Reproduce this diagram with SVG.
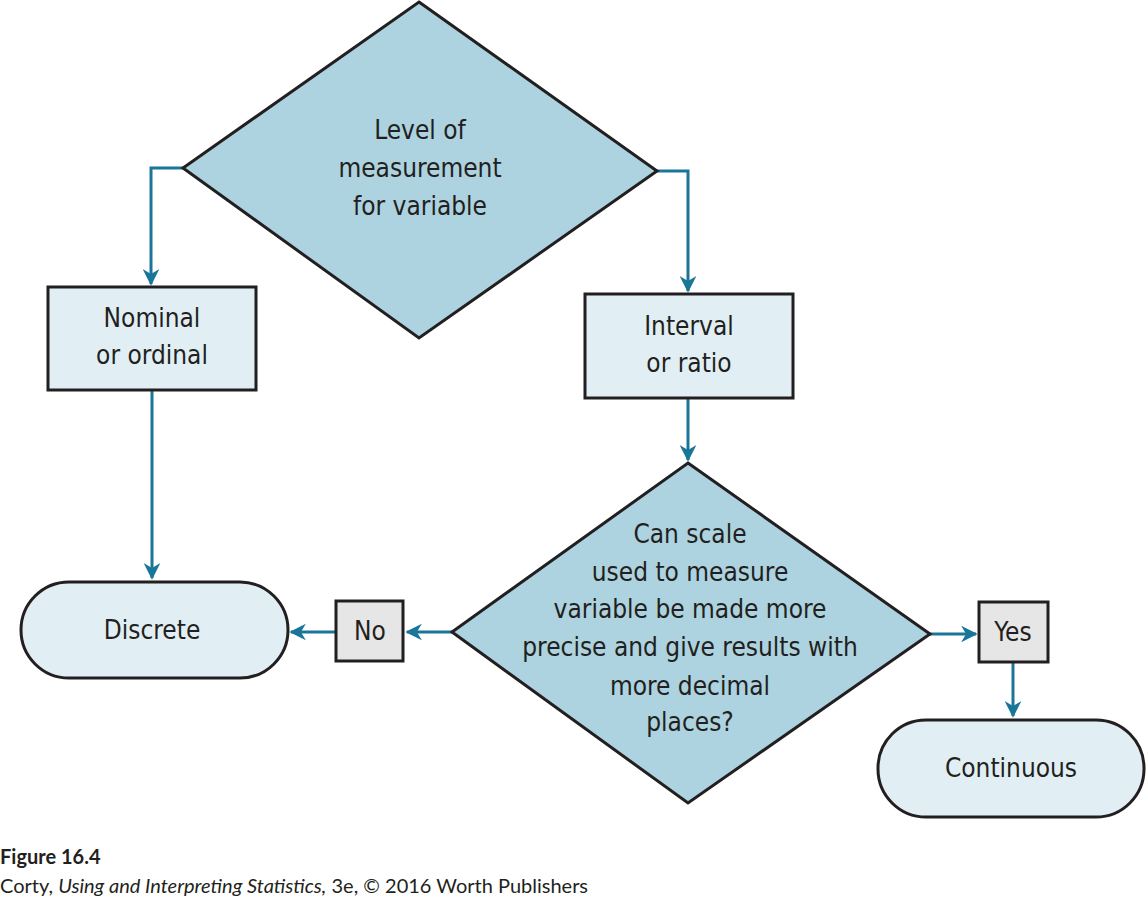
<svg xmlns="http://www.w3.org/2000/svg" width="1147" height="900" viewBox="0 0 1147 900">
<style>
.shape{stroke:#231f20;stroke-width:3}
.dia{fill:#acd3df}
.box{fill:#e1eff4}
.lbl{fill:#e6e6e6}
.t{font-family:"Liberation Sans Narrow","DejaVu Sans Condensed","Roboto Condensed",sans-serif;font-size:26px;fill:#231f20;text-anchor:middle}
.c{fill:none;stroke:#1a7699;stroke-width:3}
.cap{font-family:Lato,"Open Sans",sans-serif;font-size:20px;fill:#231f20}
</style>
<defs>
<marker id="ah" viewBox="0 0 10 10" refX="9" refY="5" markerWidth="5.5" markerHeight="5.5" orient="auto" markerUnits="strokeWidth">
<path d="M0,0 L10,5 L0,10 L3,5 Z" fill="#1a7699"/>
</marker>
</defs>
<g id="connectors">
<path class="c" d="M183,168 H151 V284" marker-end="url(#ah)"/>
<path class="c" d="M657,171 H688 V291" marker-end="url(#ah)"/>
<path class="c" d="M152,390 V578" marker-end="url(#ah)"/>
<path class="c" d="M688,398 V460" marker-end="url(#ah)"/>
<path class="c" d="M452,632 H407" marker-end="url(#ah)"/>
<path class="c" d="M336,632 H291" marker-end="url(#ah)"/>
<path class="c" d="M930,634 H976" marker-end="url(#ah)"/>
<path class="c" d="M1013,662 V716" marker-end="url(#ah)"/>
</g>
<g id="level">
<polygon class="shape dia" points="419,2 657,171 419,338 183,168"/>
<text class="t" x="420" y="139">Level of</text>
<text class="t" x="420" y="177">measurement</text>
<text class="t" x="420" y="215">for variable</text>
</g>
<g id="nominal">
<rect class="shape box" x="48" y="287" width="208" height="103"/>
<text class="t" x="152" y="327">Nominal</text>
<text class="t" x="152" y="364">or ordinal</text>
</g>
<g id="interval">
<rect class="shape box" x="585" y="294" width="208" height="104"/>
<text class="t" x="689" y="335">Interval</text>
<text class="t" x="689" y="372">or ratio</text>
</g>
<g id="scale">
<polygon class="shape dia" points="688,463 930,634 688,803 452,632"/>
<text class="t" x="690" y="543">Can scale</text>
<text class="t" x="690" y="581">used to measure</text>
<text class="t" x="690" y="618">variable be made more</text>
<text class="t" x="690" y="656">precise and give results with</text>
<text class="t" x="690" y="695">more decimal</text>
<text class="t" x="690" y="731">places?</text>
</g>
<g id="no">
<rect class="shape lbl" x="336" y="601" width="67" height="60"/>
<text class="t" x="370" y="640">No</text>
</g>
<g id="yes">
<rect class="shape lbl" x="979" y="602" width="69" height="60"/>
<text class="t" x="1013" y="641">Yes</text>
</g>
<g id="discrete">
<rect class="shape box" x="21" y="582" width="267" height="96" rx="48"/>
<text class="t" x="152" y="639">Discrete</text>
</g>
<g id="continuous">
<rect class="shape box" x="878" y="720" width="266" height="97" rx="48"/>
<text class="t" x="1011" y="777">Continuous</text>
</g>
<g id="caption">
<text class="cap" x="0" y="864" font-weight="bold" font-size="19">Figure 16.4</text>
<text class="cap" x="0" y="893">Corty, <tspan font-style="italic">Using and Interpreting Statistics,</tspan> 3e, © 2016 Worth Publishers</text>
</g>
</svg>
